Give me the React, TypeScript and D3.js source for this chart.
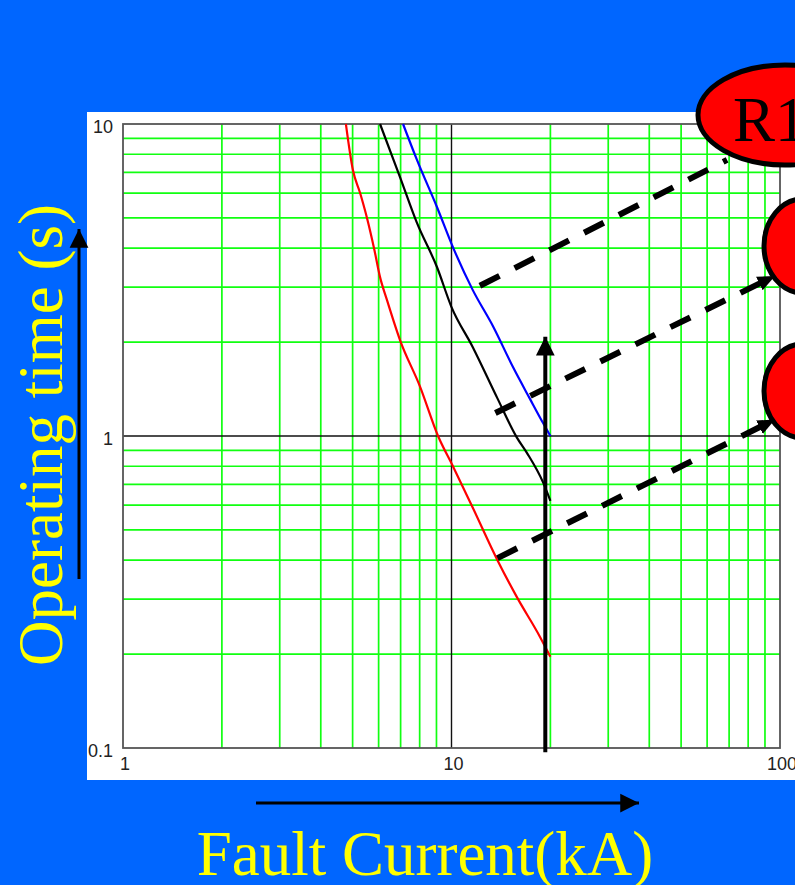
import React from "react";
import * as d3 from "d3";

// relay curves: [current kA, time s]
const redCurve: [number, number][] = [
  [4.77, 10], [5.01, 7.12], [5.27, 6.01], [5.53, 5.0], [5.81, 4.0], [6.06, 3.23],
  [6.36, 2.73], [6.97, 2.03], [8.02, 1.44], [9.1, 1.0], [10.1, 0.8], [11.6, 0.59],
  [13.8, 0.4], [15.8, 0.305], [18.6, 0.227], [20, 0.196],
];
const blackCurve: [number, number][] = [
  [6.06, 10], [6.97, 6.76], [7.85, 4.82], [9.03, 3.48], [10.0, 2.59], [11.6, 1.93],
  [13.8, 1.32], [15.8, 0.99], [17.0, 0.88], [19.0, 0.71], [20, 0.62],
];
const blueCurve: [number, number][] = [
  [7.12, 10], [7.85, 7.67], [9.03, 5.42], [10.1, 4.03], [11.6, 2.94], [13.4, 2.24],
  [15.4, 1.66], [17.3, 1.32], [19.0, 1.1], [20, 1.0],
];

const xTicks = [1, 10, 100];
const yTicks = [0.1, 1, 10];
const xMinor = [2, 3, 4, 5, 6, 7, 8, 9, 20, 30, 40, 50, 60, 70, 80, 90];
const yMinor = [0.2, 0.3, 0.4, 0.5, 0.6, 0.7, 0.8, 0.9, 2, 3, 4, 5, 6, 7, 8, 9];

// dashed pointers: from a curve to a relay bubble
const pointers = [
  { from: [12.2, 3.03], to: [69.0, 7.67], arrow: false },
  { from: [13.6, 1.185], to: [96.6, 3.26], arrow: true },
  { from: [13.8, 0.406], to: [96.6, 1.13], arrow: true },
];
const faultCurrent = 19.3;
const faultArrow = [0.097, 2.08];

const W = 795;
const H = 885;

export default function App() {
  const x = d3.scaleLog().domain([1, 100]).range([123, 780]);
  const y = d3.scaleLog().domain([0.1, 10]).range([748, 124]);
  const line = d3
    .line<[number, number]>()
    .x((d) => x(d[0]))
    .y((d) => y(d[1]))
    .curve(d3.curveMonotoneX);

  const serif = "'Liberation Serif', 'Times New Roman', serif";
  const small = "'Liberation Sans Narrow', 'Liberation Sans', Arial, sans-serif";

  return (
    <svg width={W} height={H} style={{ position: "absolute", left: 0, top: 0 }}>
      <defs>
        <marker id="ah" markerUnits="userSpaceOnUse" markerWidth="20" markerHeight="20"
          viewBox="0 -8 16 16" refX="14" refY="0" orient="auto">
          <path d="M0,-6L14,0L0,6Z" fill="#000" />
        </marker>
        <marker id="ahBig" markerUnits="userSpaceOnUse" markerWidth="20" markerHeight="20"
          viewBox="0 -8 16 16" refX="15" refY="0" orient="auto">
          <path d="M0,-7.5L15,0L0,7.5Z" fill="#000" />
        </marker>
      </defs>
      <rect width={W} height={H} fill="#0066ff" />
      <rect x={87} y={112} width={W - 87} height={668} fill="#fff" />

      {/* grid */}
      {xMinor.map((v) => (
        <line key={"gx" + v} x1={x(v)} x2={x(v)} y1={y(0.1)} y2={y(10)} stroke="#11ff11" strokeWidth={1.7} />
      ))}
      {yMinor.map((v) => (
        <line key={"gy" + v} y1={y(v)} y2={y(v)} x1={x(1)} x2={x(100)} stroke="#11ff11" strokeWidth={1.7} />
      ))}
      <line x1={x(10)} x2={x(10)} y1={y(0.1)} y2={y(10)} stroke="#111" strokeWidth={1.4} />
      <line y1={y(1)} y2={y(1)} x1={x(1)} x2={x(100)} stroke="#111" strokeWidth={1.4} />
      <rect x={x(1)} y={y(10)} width={x(100) - x(1)} height={y(0.1) - y(10)} fill="none" stroke="#555" strokeWidth={1.8} />

      {/* tick labels */}
      {yTicks.map((v) => (
        <text key={"ty" + v} x={113} y={y(v) + 9} textAnchor="end" fontFamily={small} fontSize={18} fill="#222">
          {String(v)}
        </text>
      ))}
      {xTicks.map((v) => (
        <text key={"tx" + v} x={x(v) + 2} y={770} textAnchor="middle" fontFamily={small} fontSize={18} fill="#222">
          {String(v)}
        </text>
      ))}

      {/* curves */}
      <path d={line(redCurve) ?? ""} fill="none" stroke="#ff0000" strokeWidth={2.2} />
      <path d={line(blackCurve) ?? ""} fill="none" stroke="#000" strokeWidth={2.2} />
      <path d={line(blueCurve) ?? ""} fill="none" stroke="#0000ff" strokeWidth={2.2} />

      {/* fault current arrow */}
      <line x1={x(faultCurrent)} x2={x(faultCurrent)} y1={y(faultArrow[0])} y2={y(faultArrow[1])}
        stroke="#000" strokeWidth={4} markerEnd="url(#ahBig)" />

      {/* dashed pointers */}
      {pointers.map((p, i) => (
        <line key={"p" + i} x1={x(p.from[0])} y1={y(p.from[1])} x2={x(p.to[0])} y2={y(p.to[1])}
          stroke="#000" strokeWidth={6} strokeDasharray="22 17"
          markerEnd={p.arrow ? "url(#ah)" : undefined} />
      ))}

      {/* relay bubbles */}
      <ellipse cx={785} cy={115} rx={87} ry={50} fill="#ff0000" stroke="#000" strokeWidth={5} />
      <text x={733} y={141} fontFamily={serif} fontSize={63} fill="#000">R1</text>
      <ellipse cx={803} cy={246} rx={39} ry={47} fill="#ff0000" stroke="#000" strokeWidth={5} />
      <ellipse cx={803} cy={391} rx={39} ry={47} fill="#ff0000" stroke="#000" strokeWidth={5} />

      {/* axis titles and arrows */}
      <line x1={79} x2={79} y1={579} y2={229} stroke="#000" strokeWidth={3} markerEnd="url(#ahBig)" />
      <line x1={256} x2={639} y1={803} y2={803} stroke="#000" strokeWidth={3} markerEnd="url(#ahBig)" />
      <text transform="translate(62,435) rotate(-90)" textAnchor="middle" fontFamily={serif} fontSize={63} fill="#ffff00">
        Operating time (s)
      </text>
      <text x={425} y={875} textAnchor="middle" fontFamily={serif} fontSize={63} fill="#ffff00">
        Fault Current(kA)
      </text>
    </svg>
  );
}
